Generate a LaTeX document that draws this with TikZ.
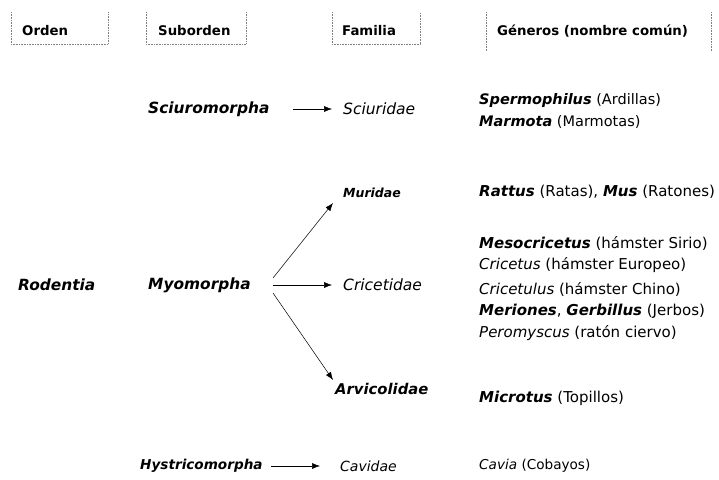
\documentclass[tikz,border=0pt]{standalone}
\usepackage{fontspec}
\setmainfont{DejaVu Sans}
\usetikzlibrary{arrows.meta}
\begin{document}
\begin{tikzpicture}[x=1pt,y=-1pt,
  txt/.style={anchor=west,inner sep=0pt,font=\fontsize{12}{14}\selectfont},
  hdr/.style={txt,font=\fontsize{13.3}{14}\selectfont\bfseries},
  tax/.style={txt,font=\fontsize{15.4}{16}\selectfont\bfseries\itshape},
  fam/.style={txt,font=\fontsize{15.5}{16}\selectfont\itshape},
  famb/.style={txt,font=\fontsize{14.8}{16}\selectfont\bfseries\itshape},
  gen/.style={txt,font=\fontsize{15}{16}\selectfont},
  frame/.style={draw=gray,densely dotted,line width=0.6pt},
  link/.style={draw,line width=0.5pt,-{Latex[length=8pt,width=6pt]}}]
\useasboundingbox (0,0) rectangle (719,479);
% header frames
\coordinate (o1) at (11,12); \coordinate (o2) at (11,44); \coordinate (o3) at (108,44); \coordinate (o4) at (108,12);
\draw[frame] (o1) -- (o2) -- (o3) -- (o4);
\coordinate (s1) at (146,12); \coordinate (s2) at (146,44); \coordinate (s3) at (246,44); \coordinate (s4) at (246,12);
\draw[frame] (s1) -- (s2) -- (s3) -- (s4);
\coordinate (f1) at (332,12); \coordinate (f2) at (332,44); \coordinate (f3) at (420,44); \coordinate (f4) at (420,12);
\draw[frame] (f1) -- (f2) -- (f3) -- (f4);
\coordinate (g1) at (486,12); \coordinate (g2) at (486,51); \coordinate (g3) at (711,12); \coordinate (g4) at (711,52);
\draw[frame] (g1) -- (g2);
\draw[frame] (g3) -- (g4);
\node[hdr] (horden) at (22,31) {Orden};
\node[hdr] (hsub) at (158,31) {Suborden};
\node[hdr] (hfam) at (342,31) {Familia};
\node[hdr] (hgen) at (497,31) {Géneros (nombre común)};
% taxa
\node[tax] (rod) at (18,285) {Rodentia};
\node[tax] (sciu) at (148,109) {Sciuromorpha};
\node[tax] (myo) at (148,285) {Myomorpha};
\node[tax,font=\fontsize{13.6}{16}\selectfont\bfseries\itshape] (hys) at (140,466) {Hystricomorpha};
\node[fam] (sciur) at (343,109) {Sciuridae};
\node[famb,font=\fontsize{12.5}{14}\selectfont\bfseries\itshape] (mur) at (343,193) {Muridae};
\node[fam] (cric) at (343,285) {Cricetidae};
\node[famb] (arv) at (335,389) {Arvicolidae};
\node[fam,font=\fontsize{14}{16}\selectfont\itshape] (cav) at (340,466) {Cavidae};
% genera
\node[gen,font=\fontsize{14.5}{16}\selectfont] (g-sper) at (479,100) {\textit{\bfseries Spermophilus} (Ardillas)};
\node[gen,font=\fontsize{14.5}{16}\selectfont] (g-marm) at (479,122) {\textit{\bfseries Marmota} (Marmotas)};
\node[gen] (g-rat) at (479,192) {\textit{\bfseries Rattus} (Ratas), \textit{\bfseries Mus} (Ratones)};
\node[gen] (g-meso) at (479,243) {\textit{\bfseries Mesocricetus} (hámster Sirio)};
\node[gen] (g-cric) at (479,265) {\textit{Cricetus} (hámster Europeo)};
\node[gen] (g-cricl) at (479,289) {\textit{Cricetulus} (hámster Chino)};
\node[gen] (g-mer) at (479,311) {\textit{\bfseries Meriones}, \textit{\bfseries Gerbillus} (Jerbos)};
\node[gen] (g-per) at (479,333) {\textit{Peromyscus} (ratón ciervo)};
\node[gen] (g-mic) at (479,398) {\textit{\bfseries Microtus} (Topillos)};
\node[gen,font=\fontsize{13.6}{16}\selectfont] (g-cav) at (479,466) {\textit{Cavia} (Cobayos)};
% connectors
\coordinate (a1) at (293,109); \coordinate (a1e) at (332,109);
\draw[link] (a1) -- (a1e);
\coordinate (m0) at (273,278); \coordinate (m0e) at (333,203);
\draw[link] (m0) -- (m0e);
\coordinate (m1) at (273,285); \coordinate (m1e) at (332,285);
\draw[link] (m1) -- (m1e);
\coordinate (m2) at (273,293); \coordinate (m2e) at (333,380);
\draw[link] (m2) -- (m2e);
\coordinate (h1) at (271,466); \coordinate (h1e) at (320,466);
\draw[link] (h1) -- (h1e);
\end{tikzpicture}
\end{document}
